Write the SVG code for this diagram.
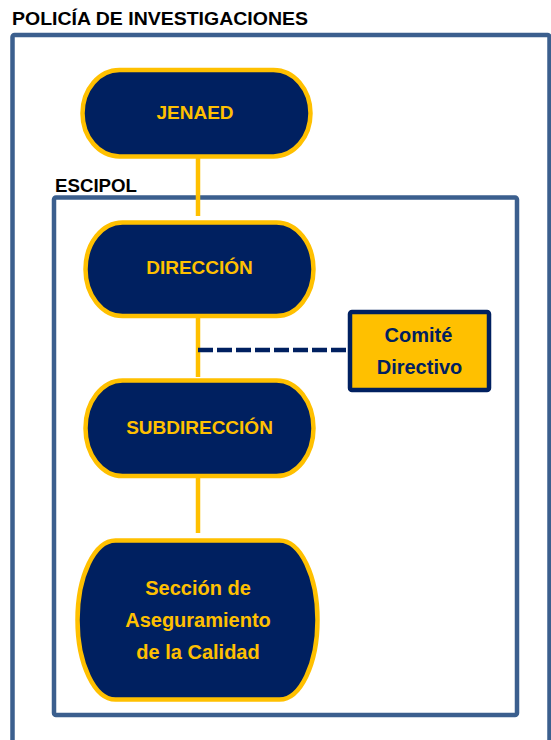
<svg xmlns="http://www.w3.org/2000/svg" width="551" height="740" viewBox="0 0 551 740">
<style>
  .frame{fill:none;stroke:#3B5F8E;stroke-width:4.5}
  .pill{fill:#002060;stroke:#FFC000;stroke-width:4.5}
  .ptxt{font-family:"Liberation Sans",Arial,sans-serif;font-weight:bold;font-size:19px;fill:#FFC000;text-anchor:middle}
  .ptxt2{font-family:"Liberation Sans",Arial,sans-serif;font-weight:bold;font-size:20px;fill:#FFC000;text-anchor:middle}
  .lbl{font-family:"Liberation Sans",Arial,sans-serif;font-weight:bold;font-size:19px;fill:#000000}
  .box{fill:#FFC000;stroke:#002060;stroke-width:4.5}
  .btxt{font-family:"Liberation Sans",Arial,sans-serif;font-weight:bold;font-size:20px;fill:#002060;text-anchor:middle}
  .solid{stroke:#FFC000;stroke-width:4.5;fill:none}
  .dash{stroke:#002060;stroke-width:4.5;stroke-dasharray:15 4;fill:none}
</style>
<rect width="551" height="740" fill="#ffffff"/>
<g id="policia">
  <text class="lbl" x="12" y="25" textLength="296" lengthAdjust="spacingAndGlyphs">POLICÍA DE INVESTIGACIONES</text>
  <rect class="frame" x="12.5" y="35" width="537" height="720" rx="2"/>
</g>
<g id="escipol">
  <text class="lbl" x="55" y="192" textLength="82" lengthAdjust="spacingAndGlyphs">ESCIPOL</text>
  <rect class="frame" x="54" y="197.5" width="463" height="517.5" rx="2"/>
</g>
<g id="connectors">
  <line class="solid" x1="198" y1="157" x2="198" y2="216"/>
  <line class="solid" x1="198" y1="316" x2="198" y2="377"/>
  <line class="solid" x1="198" y1="476" x2="198" y2="533"/>
  <line class="dash" x1="198" y1="350" x2="346" y2="350"/>
</g>
<g id="jenaed">
  <rect class="pill" x="82.5" y="70" width="228" height="86.5" rx="37" ry="43.25"/>
  <text class="ptxt" x="195" y="118.5">JENAED</text>
</g>
<g id="direccion">
  <rect class="pill" x="85.5" y="222.5" width="228" height="93.5" rx="37" ry="46.75"/>
  <text class="ptxt" x="199.5" y="273.5">DIRECCIÓN</text>
</g>
<g id="comite">
  <rect class="box" x="350" y="312" width="139" height="78" rx="2"/>
  <text class="btxt" x="418.5" y="342">Comité</text>
  <text class="btxt" x="419.5" y="373.5">Directivo</text>
</g>
<g id="subdireccion">
  <rect class="pill" x="85.5" y="380.5" width="228" height="95.5" rx="37" ry="47.75"/>
  <text class="ptxt" x="199.5" y="433.5">SUBDIRECCIÓN</text>
</g>
<g id="seccion">
  <rect class="pill" x="77.5" y="540.5" width="240" height="159" rx="38" ry="79.5"/>
  <text class="ptxt2" x="198" y="595">Sección de</text>
  <text class="ptxt2" x="198" y="627">Aseguramiento</text>
  <text class="ptxt2" x="198" y="659">de la Calidad</text>
</g>
</svg>
